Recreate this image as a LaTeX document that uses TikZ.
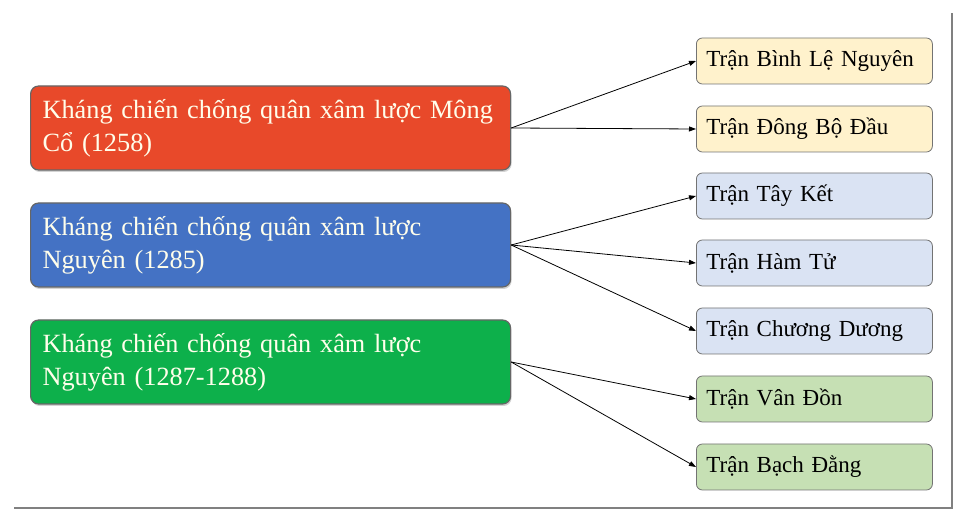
\documentclass[tikz,border=0pt]{standalone}
\usepackage{fontspec}
\setmainfont{Liberation Serif}
\usetikzlibrary{arrows.meta,shadows}

\definecolor{warred}{HTML}{E8492A}
\definecolor{warblue}{HTML}{4472C4}
\definecolor{wargreen}{HTML}{0DB04B}
\definecolor{battlecream}{HTML}{FFF2CC}
\definecolor{battleblue}{HTML}{DAE3F3}
\definecolor{battlegreen}{HTML}{C6E0B4}

\begin{document}
\begin{tikzpicture}[x=1pt,y=-1pt,
    war/.style={rectangle,rounded corners=8pt,draw=black!60,line width=1.2pt,
        anchor=west,minimum width=478pt,minimum height=84pt,text width=456pt,
        inner xsep=12pt,align=left,text=white!92!yellow,font=\fontsize{26.3}{33}\selectfont,
        drop shadow={shadow xshift=1pt,shadow yshift=-2pt,opacity=0.35}},
    battle/.style={rectangle,rounded corners=6pt,draw=black!55,line width=0.8pt,
        anchor=west,minimum width=236pt,minimum height=46pt,text width=216pt,
        inner xsep=10pt,align=left,font=\fontsize{23}{26}\selectfont},
    link/.style={-{Triangle[length=7pt,width=5pt]},line width=0.8pt}]
    \useasboundingbox (0,0) rectangle (962,518);

    % frame shadow
    \draw[black!50,line width=1.6pt] (14,508) -- (952,508) -- (952,13);

    \node[war,fill=warred] at (30,128) (mongco) {Kháng chiến chống quân xâm lược Mông\\Cổ (1258)};
    \node[war,fill=warblue] at (30,245) (nguyen1) {Kháng chiến chống quân xâm lược\\Nguyên (1285)};
    \node[war,fill=wargreen] at (30,362) (nguyen2) {Kháng chiến chống quân xâm lược\\Nguyên (1287-1288)};

    \node[battle,fill=battlecream] at (696,61) (binhle) {Trận Bình Lệ Nguyên};
    \node[battle,fill=battlecream] at (696,129) (dongbo) {Trận Đông Bộ Đầu};
    \node[battle,fill=battleblue] at (696,196) (tayket) {Trận Tây Kết};
    \node[battle,fill=battleblue] at (696,263) (hamtu) {Trận Hàm Tử};
    \node[battle,fill=battleblue] at (696,331) (chuongduong) {Trận Chương Dương};
    \node[battle,fill=battlegreen] at (696,399) (vandon) {Trận Vân Đồn};
    \node[battle,fill=battlegreen] at (696,467) (bachdang) {Trận Bạch Đằng};

    \draw[link] (mongco.east) -- (binhle.west);
    \draw[link] (mongco.east) -- (dongbo.west);
    \draw[link] (nguyen1.east) -- (tayket.west);
    \draw[link] (nguyen1.east) -- (hamtu.west);
    \draw[link] (nguyen1.east) -- (chuongduong.west);
    \draw[link] (nguyen2.east) -- (vandon.west);
    \draw[link] (nguyen2.east) -- (bachdang.west);
\end{tikzpicture}
\end{document}
